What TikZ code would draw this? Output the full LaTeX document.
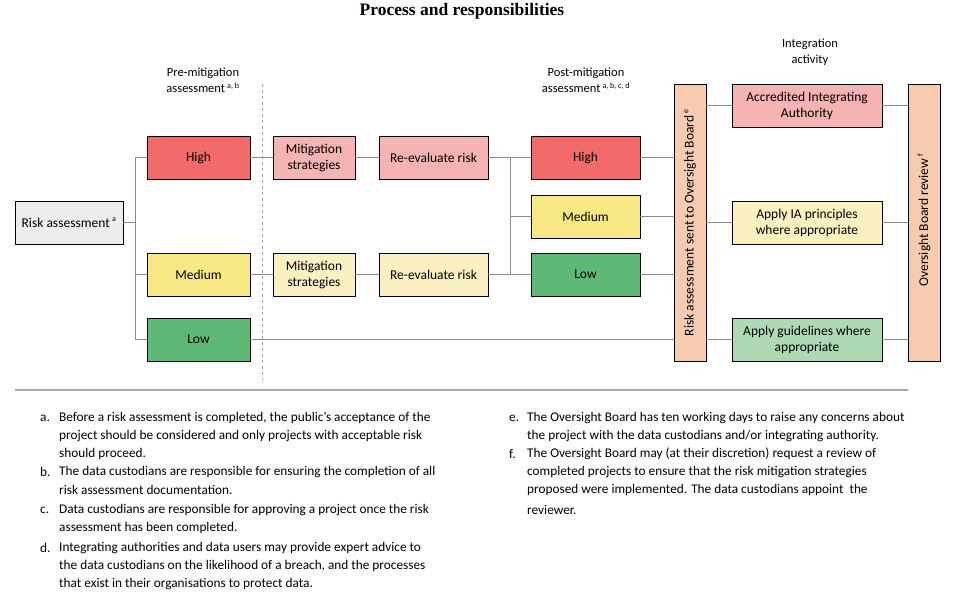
\documentclass[tikz,border=0pt]{standalone}
\usepackage{fontspec}
\setmainfont{Carlito}
\newfontfamily\titlefont{Liberation Serif}
\newcommand{\fnsup}[1]{\textsuperscript{\fontsize{8}{8}\selectfont #1}}
\begin{document}
\begin{tikzpicture}[x=1pt,y=-1pt,
  bx/.style={draw=black,line width=0.8pt,minimum height=43pt,align=center,font=\fontsize{13.5}{16}\selectfont,inner sep=1pt},
  ln/.style={draw=gray!90,line width=0.8pt},
  hd/.style={align=center,font=\fontsize{12.5}{16.5}\selectfont},
  fn/.style={anchor=west,font=\fontsize{13.3}{15}\selectfont,inner sep=0pt}]
\definecolor{cHigh}{HTML}{F26A6A}
\definecolor{cMed}{HTML}{F7E884}
\definecolor{cLow}{HTML}{5EB876}
\definecolor{lPink}{HTML}{F5B3B3}
\definecolor{lYel}{HTML}{FAF0C0}
\definecolor{lGrn}{HTML}{ADD9B5}
\definecolor{cBar}{HTML}{F6CBB0}
\definecolor{cRA}{HTML}{EDEDED}
\useasboundingbox (0,0) rectangle (957,603);
\node[font=\titlefont\bfseries\fontsize{17.5}{19}\selectfont] (title) at (462,11) {Process and responsibilities};
\node[hd] (h1) at (203,80) {Pre-mitigation\\assessment\,\fnsup{a, b}};
\node[hd] (h2) at (586,80) {Post-mitigation\\assessment\,\fnsup{a, b, c, d}};
\node[hd] (h3) at (810,52) {Integration\\activity};
\draw[gray!70,dashed,line width=0.8pt] (262,84) -- (262,380);
% nodes
\node[bx,fill=cRA,minimum width=108pt] (ra) at (69,222.5) {Risk assessment\,\fnsup{a}};
\node[bx,fill=cHigh,minimum width=103pt] (ph) at (198.5,157.5) {High};
\node[bx,fill=cMed,minimum width=103pt] (pm) at (198.5,274.5) {Medium};
\node[bx,fill=cLow,minimum width=103pt] (pl) at (198.5,339.5) {Low};
\node[bx,fill=lPink,minimum width=82pt] (mh) at (314,157.5) {Mitigation\\strategies};
\node[bx,fill=lYel,minimum width=82pt] (mm) at (314,274.5) {Mitigation\\strategies};
\node[bx,fill=lPink,minimum width=109pt] (rh) at (433.5,157.5) {Re-evaluate risk};
\node[bx,fill=lYel,minimum width=109pt] (rm) at (433.5,274.5) {Re-evaluate risk};
\node[bx,fill=cHigh,minimum width=109pt] (qh) at (585.5,157.5) {High};
\node[bx,fill=cMed,minimum width=109pt] (qm) at (585.5,216.5) {Medium};
\node[bx,fill=cLow,minimum width=109pt] (ql) at (585.5,274.5) {Low};
\node[draw=black,line width=0.8pt,fill=cBar,minimum width=32pt,minimum height=277pt,inner sep=0pt] (b1) at (690,222.5) {};
\node[rotate=90,font=\fontsize{13.5}{15}\selectfont] (b1t) at (690,222.5) {Risk assessment sent to Oversight Board\,\fnsup{e}};
\node[draw=black,line width=0.8pt,fill=cBar,minimum width=32pt,minimum height=277pt,inner sep=0pt] (b2) at (924,222.5) {};
\node[rotate=90,font=\fontsize{13.5}{15}\selectfont] (b2t) at (924,220) {Oversight Board review\,\fnsup{f}};
\node[bx,fill=lPink,minimum width=150pt] (ai) at (807,105.5) {Accredited Integrating\\Authority};
\node[bx,fill=lYel,minimum width=150pt] (ia) at (807,222.5) {Apply IA principles\\where appropriate};
\node[bx,fill=lGrn,minimum width=150pt] (ag) at (807,339.5) {Apply guidelines where\\appropriate};
% connectors
\coordinate (j1) at (135,222.5);
\draw[ln] (ra.east) -- (j1);
\draw[ln] (ph.west) -| (135,157.5) |- (pl.west);
\draw[ln] (pm.west) -- (135,274.5);
\draw[ln] (ph) -- (mh); \draw[ln] (mh) -- (rh);
\draw[ln] (pm) -- (mm); \draw[ln] (mm) -- (rm);
\draw[ln] (rh.east) -- (qh.west);
\draw[ln] (rm.east) -- (ql.west);
\draw[ln] (510,157.5) |- (qm.west);
\draw[ln] (510,216.5) -- (510,274.5);
\draw[ln] (qh.east) -- (qh.east -| b1.west);
\draw[ln] (qm.east) -- (qm.east -| b1.west);
\draw[ln] (ql.east) -- (ql.east -| b1.west);
\draw[ln] (pl.east) -- (pl.east -| b1.west);
\draw[ln] (ai.west -| b1.east) -- (ai.west);
\draw[ln] (ia.west -| b1.east) -- (ia.west);
\draw[ln] (ag.west -| b1.east) -- (ag.west);
\draw[ln] (ai.east) -- (ai.east -| b2.west);
\draw[ln] (ia.east) -- (ia.east -| b2.west);
\draw[ln] (ag.east) -- (ag.east -| b2.west);
\draw[gray!70,line width=1.2pt] (15,390) -- (908,390);
% footnotes
\node[fn] (fa) at (40,418) {a.};
\node[fn] (fa1) at (59,418) {Before a risk assessment is completed, the public’s acceptance of the};
\node[fn] (fa2) at (59,436) {project should be considered and only projects with acceptable risk};
\node[fn] (fa3) at (59,454) {should proceed.};
\node[fn] (fb) at (40,472) {b.};
\node[fn] (fb1) at (59,472) {The data custodians are responsible for ensuring the completion of all};
\node[fn] (fb2) at (59,490) {risk assessment documentation.};
\node[fn] (fc) at (40,510) {c.};
\node[fn] (fc1) at (59,510) {Data custodians are responsible for approving a project once the risk};
\node[fn] (fc2) at (59,528) {assessment has been completed.};
\node[fn] (fd) at (40,548) {d.};
\node[fn] (fd1) at (59,548) {Integrating authorities and data users may provide expert advice to};
\node[fn] (fd2) at (59,566) {the data custodians on the likelihood of a breach, and the processes};
\node[fn] (fd3) at (59,584) {that exist in their organisations to protect data.};
\node[fn] (fe) at (509,418) {e.};
\node[fn] (fe1) at (527,418) {The Oversight Board has ten working days to raise any concerns about};
\node[fn] (fe2) at (527,436) {the project with the data custodians and/or integrating authority.};
\node[fn] (ff) at (509,454) {f.};
\node[fn] (ff1) at (527,454) {The Oversight Board may (at their discretion) request a review of};
\node[fn] (ff2) at (527,472) {completed projects to ensure that the risk mitigation strategies};
\node[fn] (ff3) at (527,490) {proposed were implemented. The data custodians appoint\ \ the};
\node[fn] (ff4) at (527,510) {reviewer.};
\end{tikzpicture}
\end{document}
